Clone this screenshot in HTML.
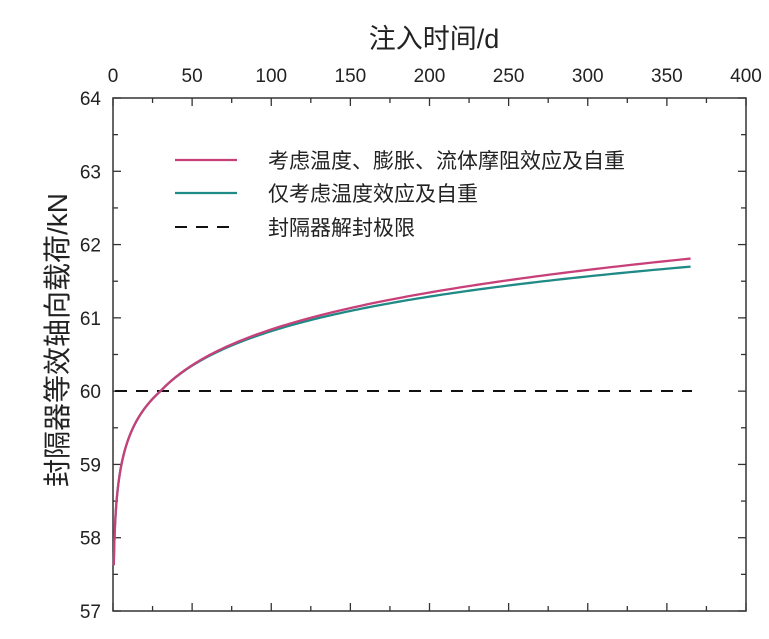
<!DOCTYPE html>
<html><head><meta charset="utf-8"><style>
html,body{margin:0;padding:0;background:#fff;}
svg{display:block;}
text{font-family:"Liberation Sans","Noto Sans CJK SC",sans-serif;fill:#222;}
</style></head><body>
<svg id="s" width="769" height="639" xmlns="http://www.w3.org/2000/svg">
<text x="434" y="48" font-size="27" text-anchor="middle">注入时间/d</text>
<text transform="translate(67,340) rotate(-90)" font-size="28" text-anchor="middle">封隔器等效轴向载荷/kN</text>
<rect x="113" y="98" width="633" height="513" fill="none" stroke="#333" stroke-width="1.5"/>
<g id="ticks" stroke="#333" stroke-width="1.3"></g>
<g id="labels" font-size="19"></g>
<line x1="115" y1="391" x2="692" y2="391" stroke="#111" stroke-width="2" stroke-dasharray="12,9"/>
<path id="teal" fill="none" stroke="#1f8a86" stroke-width="2.3"/>
<path id="mag" fill="none" stroke="#c8407a" stroke-width="2.3"/>
<line x1="175" y1="160" x2="237" y2="160" stroke="#c8407a" stroke-width="2.3"/>
<line x1="175" y1="193" x2="237" y2="193" stroke="#1f8a86" stroke-width="2.3"/>
<line x1="175" y1="227" x2="237" y2="227" stroke="#111" stroke-width="2" stroke-dasharray="12,9"/>
<text x="268" y="168" font-size="21">考虑温度、膨胀、流体摩阻效应及自重</text>
<text x="268" y="201" font-size="21">仅考虑温度效应及自重</text>
<text x="268" y="235" font-size="21">封隔器解封极限</text>
</svg>
<script>
var X=function(t){return 113+t*633/400;},Y=function(v){return 98+(64-v)*513/7;};
var tk=document.getElementById('ticks'),lb=document.getElementById('labels'),ns='http://www.w3.org/2000/svg';
function ln(x1,y1,x2,y2){var e=document.createElementNS(ns,'line');e.setAttribute('x1',x1);e.setAttribute('y1',y1);e.setAttribute('x2',x2);e.setAttribute('y2',y2);tk.appendChild(e);}
function tx(x,y,s,a){var e=document.createElementNS(ns,'text');e.setAttribute('x',x);e.setAttribute('y',y);e.setAttribute('text-anchor',a);e.textContent=s;lb.appendChild(e);}
for(var t=0;t<=400;t+=25){var x=X(t),l=(t%50==0)?8:5;ln(x,98,x,98+l);ln(x,611,x,611-l);if(t%50==0)tx(x,82,t,'middle');}
for(var v=57;v<=64;v+=0.5){var y=Y(v),l=(v%1==0)?8:5;ln(113,y,113+l,y);ln(746,y,746-l,y);if(v%1==0)tx(101,y+7,v,'end');}
function f(t){return t>=30?60+0.68*Math.log(t/30):60+0.58*Math.log(t/30);}
var a='',b='';
for(var i=0;i<=400;i++){var t=0.5*Math.pow(365/0.5,i/400);var v=f(t);var m=v+(t>30?0.11*(t-30)/335:0);
a+=(i?'L':'M')+X(t).toFixed(2)+' '+Y(v).toFixed(2);b+=(i?'L':'M')+X(t).toFixed(2)+' '+Y(m).toFixed(2);}
document.getElementById('teal').setAttribute('d',a);document.getElementById('mag').setAttribute('d',b);
</script>
</body></html>
